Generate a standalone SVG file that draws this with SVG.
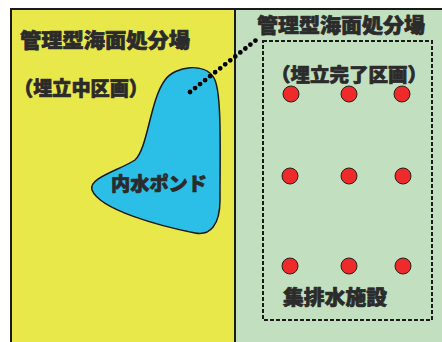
<svg xmlns="http://www.w3.org/2000/svg" width="442" height="342" viewBox="0 0 442 342">
<style>
.t{font-family:"Noto Sans CJK JP","Noto Sans",sans-serif;font-weight:900;fill:#2b2b2b;stroke:#2b2b2b;stroke-width:0.7;stroke-linejoin:round}
.well{fill:#ee2a2a;stroke:#222;stroke-width:1}
</style>
<rect x="0" y="0" width="442" height="342" fill="#ffffff"/>
<g id="area-active">
<rect x="11" y="9" width="224" height="340" fill="#e8e84a" stroke="#1a1a1a" stroke-width="2"/>
<text class="t" x="20" y="48" font-size="20.5" textLength="170" lengthAdjust="spacingAndGlyphs">管理型海面処分場</text>
<text class="t" x="14" y="96" font-size="20" textLength="134" lengthAdjust="spacingAndGlyphs">（埋立中区画）</text>
</g>
<g id="area-complete">
<rect x="235" y="9" width="212" height="340" fill="#c2e0c0" stroke="#1a1a1a" stroke-width="2"/>
<text class="t" x="257" y="33" font-size="20.5" textLength="168" lengthAdjust="spacingAndGlyphs">管理型海面処分場</text>
</g>
<g id="pond">
<path d="M165 80 C175 66 205 62 214 78 C222 92 220 150 220 200 C220 225 210 236 195 233 C160 226 100 210 92 190 C88 178 120 170 135 160 C148 148 150 100 165 80 Z" fill="#2bbfe8" stroke="#1a1a1a" stroke-width="1.5"/>
<text class="t" x="111" y="191" font-size="19" textLength="96" lengthAdjust="spacingAndGlyphs">内水ポンド</text>
</g>
<g id="drainage">
<rect x="263" y="41" width="169" height="279" fill="none" stroke="#1a1a1a" stroke-width="2" stroke-dasharray="4 2"/>
<text class="t" x="271" y="82" font-size="19" textLength="156" lengthAdjust="spacingAndGlyphs">（埋立完了区画）</text>
<circle class="well" cx="291" cy="94" r="8"/>
<circle class="well" cx="349" cy="94" r="8"/>
<circle class="well" cx="402" cy="94" r="8"/>
<circle class="well" cx="290" cy="176" r="8"/>
<circle class="well" cx="349" cy="176" r="8"/>
<circle class="well" cx="403" cy="176" r="8"/>
<circle class="well" cx="290" cy="266" r="8"/>
<circle class="well" cx="349" cy="266" r="8"/>
<circle class="well" cx="403" cy="266" r="8"/>
<text class="t" x="283" y="305" font-size="20" textLength="104" lengthAdjust="spacingAndGlyphs">集排水施設</text>
</g>
<g id="connectors">
<line x1="190" y1="92" x2="260" y2="37" stroke="#000" stroke-width="4.8" stroke-linecap="round" stroke-dasharray="0 6.4"/>
</g>
</svg>
